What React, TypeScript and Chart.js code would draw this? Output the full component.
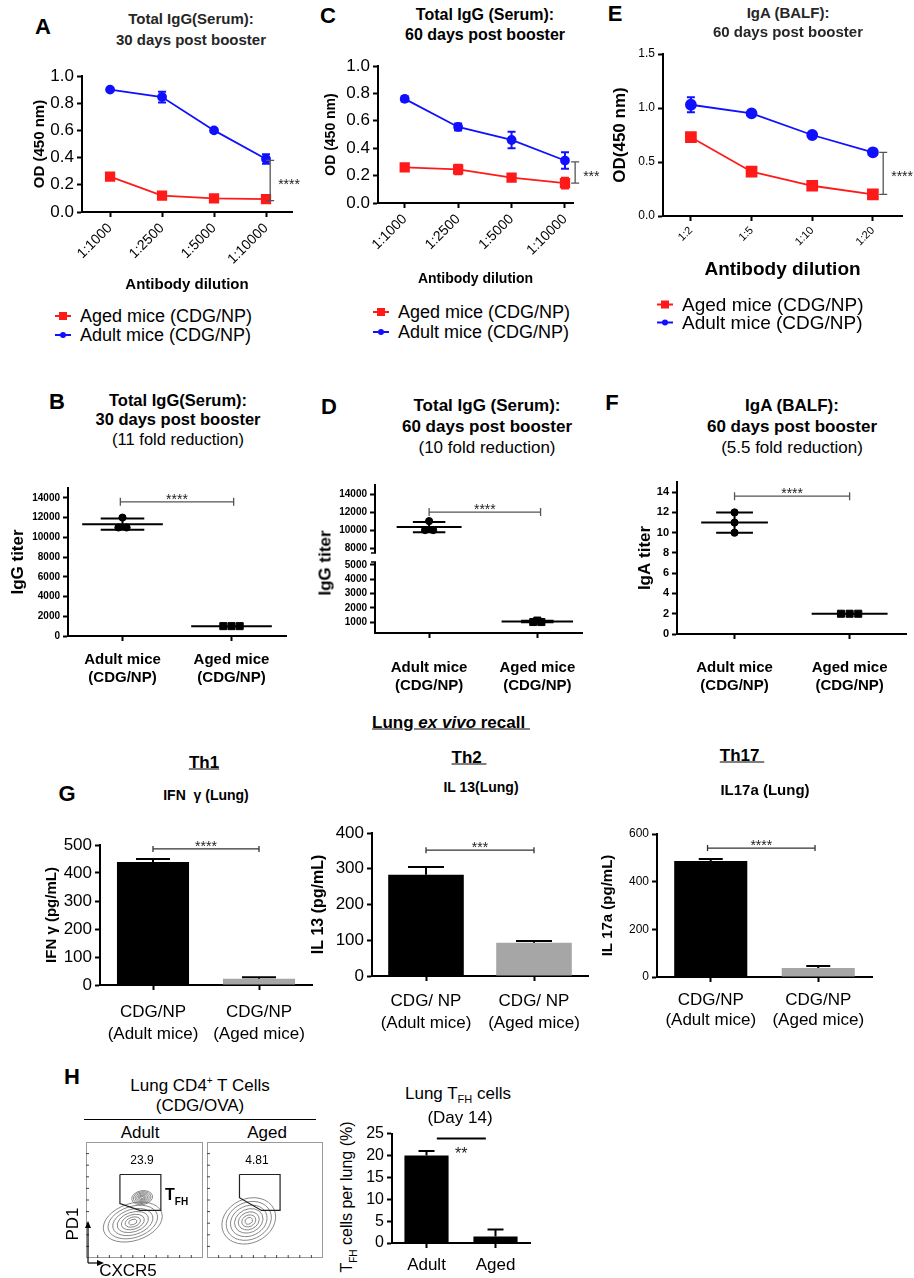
import React, { useEffect, useRef } from 'react';
import { Chart, registerables } from 'chart.js';

Chart.register(...registerables);

const FONT = "'Liberation Sans', Arial, Helvetica, sans-serif";
const RED = '#ff1a1a';
const BLUE = '#1010ff';
const GREY_BAR = '#a6a6a6';

// ---------- data ----------
const igGDilutions = ['1:1000', '1:2500', '1:5000', '1:10000'];
const igADilutions = ['1:2', '1:5', '1:10', '1:20'];
const odTicks = [0, 0.2, 0.4, 0.6, 0.8, 1.0];
const odIgATicks = [0, 0.5, 1.0, 1.5];

// A: total IgG, 30 days
const a30Adult = [0.9, 0.845, 0.6, 0.39];
const a30AdultErr = [0.01, 0.04, 0.012, 0.035];
const a30Aged = [0.26, 0.12, 0.1, 0.095];
const a30AgedErr = [0.015, 0.012, 0.008, 0.008];

// C: total IgG, 60 days
const c60Adult = [0.76, 0.555, 0.46, 0.31];
const c60AdultErr = [0.02, 0.025, 0.06, 0.06];
const c60Aged = [0.26, 0.245, 0.185, 0.145];
const c60AgedErr = [0.02, 0.035, 0.015, 0.04];

// E: IgA BALF, 60 days
const eIgAAdult = [1.03, 0.95, 0.75, 0.59];
const eIgAAdultErr = [0.07, 0.01, 0.01, 0.01];
const eIgAAged = [0.73, 0.41, 0.28, 0.2];
const eIgAAgedErr = [0.01, 0.01, 0.01, 0.01];

// B, D, F: titers per mouse
const titerGroups = [['Adult mice', '(CDG/NP)'], ['Aged mice', '(CDG/NP)']];
const bTicks = [0, 2000, 4000, 6000, 8000, 10000, 12000, 14000];
const bAdult = [12000, 11000, 11000];
const bAged = [1000, 1000, 1000];
const dTicksUpper = [8000, 10000, 12000, 14000];
const dTicksLower = [1000, 2000, 3000, 4000, 5000];
const dAdult = [11000, 10000, 10000];
const dAged = [1100, 1000, 1000];
const fTicks = [0, 2, 4, 6, 8, 10, 12, 14];
const fAdult = [12, 11, 10];
const fAged = [2, 2, 2];

// G: cytokines
const cytoCats = [['CDG/NP', '(Adult mice)'], ['CDG/NP', '(Aged mice)']];
const cytoCatsIl13 = [['CDG/ NP', '(Adult mice)'], ['CDG/ NP', '(Aged mice)']];
const ifnTicks = [0, 100, 200, 300, 400, 500];
const ifnG = [439, 22];
const ifnGErr = [11, 6];
const il13Ticks = [0, 100, 200, 300, 400];
const il13 = [283, 93];
const il13Err = [22, 5];
const il17Ticks = [0, 200, 400, 600];
const il17a = [487, 38];
const il17aErr = [8, 8];

// H: TFH
const tfhCats = ['Adult', 'Aged'];
const tfhTicks = [0, 5, 10, 15, 20, 25];
const tfhPct = [20, 1.5];
const tfhErr = [1, 1.6];
// flow gates (CXCR5, PD1 on a 0-100 display scale)
const adultGate = [[29, 72], [64, 72], [64, 41], [46, 41], [29, 47], [29, 72]];
const agedGate = [[28, 72], [63, 72], [63, 41], [47, 41], [28, 52], [28, 72]];
// populations: [cx, cy, rx, ry, tilt]
const adultPops = [[40, 31, 26, 16, 18], [48, 52, 9, 6, 10]];
const agedPops = [[36, 32, 24, 19, 25]];
const contourLevels = [1, 0.84, 0.68, 0.53, 0.39, 0.26, 0.14];
const flowTicks = [10, 20, 30, 40, 50, 60, 70, 80, 90];

// ---------- helpers ----------
type Area = { l: number; t: number; r: number; b: number };
type Bracket = {
  dir: 'v' | 'h'; at: number; from: number; to: number; label: string;
  yAxis?: string; color?: string; width?: number; ends?: number; size?: number; dx?: number; dy?: number;
};

const font = (size: number, bold = false, lineHeight = 1.2) =>
  ({ family: FONT, size, weight: bold ? 'bold' : 'normal', lineHeight } as any);

const baseOptions = (padT: number, padR: number) => ({
  responsive: true,
  maintainAspectRatio: false,
  animation: false,
  events: [],
  layout: { padding: { top: padT, right: padR, bottom: 0, left: 0 } },
  plugins: { legend: { display: false }, tooltip: { enabled: false }, title: { display: false } },
});

function yScale(o: {
  ticks: number[]; min: number; max: number; yw: number; size: number; bold?: boolean;
  fmt?: (v: number) => string; title?: string; titleSize?: number; titlePad?: number;
  stack?: string;
}) {
  const s: any = {
    type: 'linear', position: 'left', min: o.min, max: o.max,
    afterFit: (sc: any) => { sc.width = o.yw; },
    afterBuildTicks: (sc: any) => { sc.ticks = o.ticks.map((value) => ({ value })); },
    border: { display: true, color: '#000', width: 2 },
    grid: { display: true, drawOnChartArea: false, drawTicks: true, tickLength: 5, tickColor: '#000', tickWidth: 2 },
    ticks: {
      color: '#000', font: font(o.size, o.bold), padding: 3, autoSkip: false,
      callback: (v: number) => (o.fmt ? o.fmt(v) : String(v)),
    },
    title: {
      display: !!o.title, text: o.title || '', color: '#000', font: font(o.titleSize || 15, true),
      padding: { top: o.titlePad || 0, bottom: 0 },
    },
  };
  if (o.stack) { s.stack = o.stack; s.stackWeight = 1; }
  return s;
}

function xLinear(o: {
  labels: any[]; min: number; max: number; xh: number; size: number; bold?: boolean; rotate?: number;
  pad: number; title?: string; titleSize?: number;
}) {
  return {
    type: 'linear', position: 'bottom', min: o.min, max: o.max,
    afterFit: (sc: any) => { sc.height = o.xh; },
    afterBuildTicks: (sc: any) => { sc.ticks = o.labels.map((_, i) => ({ value: i })); },
    border: { display: true, color: '#000', width: 2 },
    grid: { display: true, drawOnChartArea: false, drawTicks: true, tickLength: 5, tickColor: '#000', tickWidth: 2 },
    ticks: {
      autoSkip: false, color: '#000', font: font(o.size, o.bold), padding: o.pad,
      minRotation: o.rotate || 0, maxRotation: o.rotate || 0,
      callback: (v: number) => o.labels[Math.round(v)],
    },
    title: {
      display: !!o.title, text: o.title || '', color: '#000', font: font(o.titleSize || 15, true),
      padding: { top: 0, bottom: 0 },
    },
  };
}

function xCategory(o: { xh: number; size: number; pad: number; lineHeight?: number }) {
  return {
    type: 'category', position: 'bottom', offset: true,
    afterFit: (sc: any) => { sc.height = o.xh; },
    border: { display: true, color: '#000', width: 2 },
    grid: { display: true, offset: false, drawOnChartArea: false, drawTicks: true, tickLength: 5, tickColor: '#000', tickWidth: 2 },
    ticks: { color: '#000', font: font(o.size, false, o.lineHeight || 1.2), padding: o.pad, autoSkip: false, maxRotation: 0 },
  };
}

const errorBars = {
  id: 'errorBars',
  afterDatasetsDraw(chart: any) {
    const { ctx } = chart;
    chart.data.datasets.forEach((ds: any, di: number) => {
      if (!ds.errors) return;
      const meta = chart.getDatasetMeta(di);
      const ys = chart.scales[meta.yAxisID];
      ctx.save();
      ctx.strokeStyle = ds.errorColor || ds.borderColor;
      ctx.lineWidth = ds.errorWidth || 2;
      meta.data.forEach((el: any, i: number) => {
        const raw = ds.data[i];
        const v = typeof raw === 'number' ? raw : raw.y;
        const e = ds.errors[i];
        if (!e) return;
        const x = el.x;
        const yTop = ys.getPixelForValue(v + e);
        const yBot = ys.getPixelForValue(ds.errorUpOnly ? v : v - e);
        const c = ds.capPx ?? 4;
        ctx.beginPath();
        ctx.moveTo(x, yTop); ctx.lineTo(x, yBot);
        ctx.moveTo(x - c, yTop); ctx.lineTo(x + c, yTop);
        if (!ds.errorUpOnly) { ctx.moveTo(x - c, yBot); ctx.lineTo(x + c, yBot); }
        ctx.stroke();
      });
      ctx.restore();
    });
  },
};

function bracketPlugin(list: Bracket[]) {
  return {
    id: 'brackets',
    afterDraw(chart: any) {
      const { ctx } = chart;
      const xs = chart.scales.x;
      list.forEach((b) => {
        const ys = chart.scales[b.yAxis || 'y'];
        const ends = b.ends ?? 4;
        ctx.save();
        ctx.strokeStyle = b.color || '#555';
        ctx.lineWidth = b.width || 1.3;
        ctx.fillStyle = '#222';
        ctx.font = `${b.size || 14}px ${FONT}`;
        ctx.textBaseline = 'alphabetic';
        ctx.beginPath();
        if (b.dir === 'v') {
          const x = xs.getPixelForValue(b.at);
          const y1 = ys.getPixelForValue(b.from);
          const y2 = ys.getPixelForValue(b.to);
          ctx.moveTo(x, y1); ctx.lineTo(x, y2);
          ctx.moveTo(x - ends, y1); ctx.lineTo(x + ends, y1);
          ctx.moveTo(x - ends, y2); ctx.lineTo(x + ends, y2);
          ctx.stroke();
          ctx.textAlign = 'left';
          ctx.fillText(b.label, x + (b.dx ?? 8), (y1 + y2) / 2 + (b.dy ?? 8));
        } else {
          const y = ys.getPixelForValue(b.at);
          const x1 = xs.getPixelForValue(b.from);
          const x2 = xs.getPixelForValue(b.to);
          ctx.moveTo(x1, y); ctx.lineTo(x2, y);
          if (ends) {
            ctx.moveTo(x1, y - ends); ctx.lineTo(x1, y + ends);
            ctx.moveTo(x2, y - ends); ctx.lineTo(x2, y + ends);
          }
          ctx.stroke();
          ctx.textAlign = 'center';
          ctx.fillText(b.label, (x1 + x2) / 2 + (b.dx ?? 0), y + (b.dy ?? 2));
        }
        ctx.restore();
      });
    },
  };
}

type MeanGroup = { x: number; values: number[]; yAxis: string; meanHalf: number; sdHalf: number };
function meanSdPlugin(groups: MeanGroup[]) {
  return {
    id: 'meanSd',
    afterDatasetsDraw(chart: any) {
      const { ctx } = chart;
      const xs = chart.scales.x;
      groups.forEach((g) => {
        const ys = chart.scales[g.yAxis];
        const n = g.values.length;
        const mean = g.values.reduce((s, v) => s + v, 0) / n;
        const sd = Math.sqrt(g.values.reduce((s, v) => s + (v - mean) ** 2, 0) / (n - 1));
        const ym = ys.getPixelForValue(mean);
        const yHi = ys.getPixelForValue(mean + sd);
        const yLo = ys.getPixelForValue(mean - sd);
        ctx.save();
        ctx.strokeStyle = '#000';
        ctx.lineWidth = 2;
        ctx.beginPath();
        ctx.moveTo(xs.getPixelForValue(g.x - g.meanHalf), ym);
        ctx.lineTo(xs.getPixelForValue(g.x + g.meanHalf), ym);
        const xc = xs.getPixelForValue(g.x);
        ctx.moveTo(xc, yHi); ctx.lineTo(xc, yLo);
        [yHi, yLo].forEach((yy) => {
          ctx.moveTo(xs.getPixelForValue(g.x - g.sdHalf), yy);
          ctx.lineTo(xs.getPixelForValue(g.x + g.sdHalf), yy);
        });
        ctx.stroke();
        ctx.restore();
      });
    },
  };
}

const axisBreak = {
  id: 'axisBreak',
  afterDraw(chart: any) {
    const { ctx } = chart;
    const top = chart.scales.yT;
    const bot = chart.scales.yB;
    const boundary = top.top < bot.top ? top.bottom : bot.bottom;
    const x = chart.chartArea.left;
    ctx.save();
    ctx.clearRect(x - 5, boundary - 6, 10, 9);
    ctx.strokeStyle = '#000';
    ctx.lineWidth = 1.5;
    ctx.beginPath();
    ctx.moveTo(x - 4, boundary - 6); ctx.lineTo(x + 1, boundary - 6);
    ctx.moveTo(x - 4, boundary + 3); ctx.lineTo(x + 1, boundary + 3);
    ctx.stroke();
    ctx.restore();
  },
};

function contourPlugin(pops: number[][]) {
  return {
    id: 'contours',
    beforeDatasetsDraw(chart: any) {
      const { ctx, chartArea: a } = chart;
      const { x, y } = chart.scales;
      ctx.save();
      ctx.beginPath();
      ctx.rect(a.left, a.top, a.right - a.left, a.bottom - a.top);
      ctx.clip();
      ctx.strokeStyle = '#7a7a7a';
      ctx.lineWidth = 0.9;
      pops.forEach(([cx, cy, rx, ry, tilt]) => {
        contourLevels.forEach((k) => {
          const px = x.getPixelForValue(cx);
          const py = y.getPixelForValue(cy);
          const prx = Math.abs(x.getPixelForValue(cx + rx * k) - px);
          const pry = Math.abs(y.getPixelForValue(cy + ry * k) - py);
          ctx.beginPath();
          ctx.ellipse(px, py, prx, pry, (-tilt * Math.PI) / 180, 0, Math.PI * 2);
          ctx.stroke();
        });
      });
      ctx.restore();
    },
  };
}

const framePlugin = {
  id: 'frame',
  afterDraw(chart: any) {
    const { ctx, chartArea: a } = chart;
    const { x, y } = chart.scales;
    ctx.save();
    ctx.strokeStyle = '#9a9a9a';
    ctx.lineWidth = 1;
    ctx.strokeRect(a.left + 0.5, a.top + 0.5, a.right - a.left - 1, a.bottom - a.top - 1);
    ctx.strokeStyle = '#444';
    ctx.beginPath();
    flowTicks.forEach((t) => {
      const px = x.getPixelForValue(t);
      const py = y.getPixelForValue(t);
      ctx.moveTo(px, a.bottom); ctx.lineTo(px, a.bottom - 3);
      ctx.moveTo(a.left, py); ctx.lineTo(a.left + 3, py);
    });
    ctx.stroke();
    ctx.restore();
  },
};

function spread(values: number[], center: number, gap: number) {
  const counts: Record<string, number> = {};
  values.forEach((v) => { counts[v] = (counts[v] || 0) + 1; });
  const seen: Record<string, number> = {};
  return values.map((v) => {
    seen[v] = (seen[v] ?? -1) + 1;
    return { x: center + (seen[v] - (counts[v] - 1) / 2) * gap, y: v };
  });
}

function ChartPanel({ area, yw, xh, padT, padR, build }: {
  area: Area; yw: number; xh: number; padT: number; padR: number; build: () => any;
}) {
  const ref = useRef<HTMLCanvasElement>(null);
  const left = area.l - yw;
  const top = area.t - padT;
  const width = area.r + padR - left;
  const height = area.b + xh - top;
  useEffect(() => {
    if (!ref.current) return;
    const chart = new Chart(ref.current, build());
    return () => chart.destroy();
  }, []);
  return (
    <div style={{ position: 'absolute', left, top, width, height }}>
      <canvas ref={ref} />
    </div>
  );
}

// ---------- chart builders ----------
function lineChart(p: {
  labels: string[]; adult: number[]; adultErr: number[]; aged: number[]; agedErr: number[];
  yTicks: number[]; yMax: number; yw: number; ySize: number; yTitle: string; yTitleSize: number; yTitlePad: number;
  xMin: number; xMax: number; xh: number; xSize: number; xTitleSize: number; padT: number; padR: number;
  circleR: number; rectR: number; bracket: Bracket;
}) {
  return {
    type: 'line',
    data: {
      datasets: [
        {
          data: p.aged.map((y, i) => ({ x: i, y })), borderColor: RED, backgroundColor: RED, borderWidth: 1.8,
          pointStyle: 'rect', pointRadius: p.rectR, errors: p.agedErr, capPx: 4,
        },
        {
          data: p.adult.map((y, i) => ({ x: i, y })), borderColor: BLUE, backgroundColor: BLUE, borderWidth: 1.8,
          pointStyle: 'circle', pointRadius: p.circleR, errors: p.adultErr, capPx: 4,
        },
      ],
    },
    options: {
      ...baseOptions(p.padT, p.padR),
      scales: {
        x: xLinear({ labels: p.labels, min: p.xMin, max: p.xMax, xh: p.xh, size: p.xSize, rotate: 45, pad: 3, title: 'Antibody dilution', titleSize: p.xTitleSize }),
        y: yScale({ ticks: p.yTicks, min: 0, max: p.yMax, yw: p.yw, size: p.ySize, fmt: (v) => v.toFixed(1), title: p.yTitle, titleSize: p.yTitleSize, titlePad: p.yTitlePad }),
      },
    },
    plugins: [errorBars, bracketPlugin([p.bracket])],
  };
}

function dotDatasets(adult: number[], aged: number[], yA: string, yB: string) {
  return [
    { data: spread(adult, 0, 0.075), yAxisID: yA, backgroundColor: '#000', borderColor: '#000', pointStyle: 'circle', pointRadius: 3.6 },
    { data: spread(aged, 1, 0.075), yAxisID: yB, backgroundColor: '#000', borderColor: '#000', pointStyle: 'rect', pointRadius: 5 },
  ];
}

function barChart(p: {
  labels: any[]; values: number[]; errors: number[]; colors: string[]; yTicks: number[]; yMax: number;
  yw: number; ySize: number; yTitle?: string; yTitleSize?: number; yTitlePad?: number;
  xh: number; xSize: number; xPad: number; xLineHeight?: number; barPct: number; cap: number;
  brackets: Bracket[]; padT: number; padR: number;
}) {
  return {
    type: 'bar',
    data: {
      labels: p.labels,
      datasets: [{
        data: p.values, backgroundColor: p.colors, borderWidth: 0, barPercentage: p.barPct, categoryPercentage: 1,
        errors: p.errors, errorUpOnly: true, errorColor: '#000', capPx: p.cap,
      }],
    },
    options: {
      ...baseOptions(p.padT, p.padR),
      scales: {
        x: xCategory({ xh: p.xh, size: p.xSize, pad: p.xPad, lineHeight: p.xLineHeight }),
        y: yScale({ ticks: p.yTicks, min: 0, max: p.yMax, yw: p.yw, size: p.ySize, title: p.yTitle, titleSize: p.yTitleSize, titlePad: p.yTitlePad }),
      },
    },
    plugins: [errorBars, bracketPlugin(p.brackets)],
  };
}

function flowChart(gate: number[][], pops: number[][]) {
  return {
    type: 'scatter',
    data: {
      datasets: [{
        data: gate.map(([x, y]) => ({ x, y })), showLine: true, borderColor: '#222', borderWidth: 1.2,
        pointRadius: 0, fill: false,
      }],
    },
    options: {
      ...baseOptions(0, 0),
      scales: { x: { display: false, min: 0, max: 100 }, y: { display: false, min: 0, max: 100 } },
    },
    plugins: [contourPlugin(pops), framePlugin],
  };
}

// ---------- text helpers ----------
function Txt({ x, y, size = 16, bold = false, align = 'center', color = '#000', rotate = 0, style, children }: any) {
  const tx = align === 'center' ? '-50%' : align === 'right' ? '-100%' : '0';
  return (
    <div style={{
      position: 'absolute', left: x, top: y, transform: `translate(${tx}, -50%) rotate(${rotate}deg)`,
      fontFamily: FONT, fontSize: size, fontWeight: bold ? 700 : 400, color, whiteSpace: 'nowrap', lineHeight: 1,
      ...style,
    }}>{children}</div>
  );
}

function LegendRow({ x, y, color, shape, text, size }: any) {
  const sq = shape === 'rect';
  return (
    <div style={{
      position: 'absolute', left: x, top: y, transform: 'translateY(-50%)', display: 'flex', alignItems: 'center',
      fontFamily: FONT, fontSize: size, whiteSpace: 'nowrap', lineHeight: 1, color: '#000',
    }}>
      <span style={{ position: 'relative', width: 16, height: 10, marginRight: 9, display: 'inline-block' }}>
        <span style={{ position: 'absolute', left: 0, top: 4, width: 16, height: 2, background: color }} />
        <span style={{
          position: 'absolute', left: sq ? 4 : 5, top: sq ? 1 : 2, width: sq ? 8 : 6, height: sq ? 8 : 6,
          borderRadius: sq ? 0 : '50%', background: color,
        }} />
      </span>
      {text}
    </div>
  );
}

export default function App() {
  return (
    <div style={{ position: 'absolute', left: 0, top: 0, width: 914, height: 1278, background: '#fff', overflow: 'hidden' }}>
      {/* A */}
      <ChartPanel area={{ l: 82, t: 76, r: 292, b: 212 }} yw={62} xh={82} padT={14} padR={22} build={() => lineChart({
        labels: igGDilutions, adult: a30Adult, adultErr: a30AdultErr, aged: a30Aged, agedErr: a30AgedErr,
        yTicks: odTicks, yMax: 1, yw: 62, ySize: 17, yTitle: 'OD (450 nm)', yTitleSize: 15, yTitlePad: 11,
        xMin: -0.54, xMax: 3.5, xh: 82, xSize: 14, xTitleSize: 15, padT: 14, padR: 22, circleR: 4, rectR: 6,
        bracket: { dir: 'v', at: 3.08, from: 0.38, to: 0.083, label: '****' },
      })} />
      {/* C */}
      <ChartPanel area={{ l: 378, t: 66, r: 573, b: 203 }} yw={63} xh={85} padT={14} padR={35} build={() => lineChart({
        labels: igGDilutions, adult: c60Adult, adultErr: c60AdultErr, aged: c60Aged, agedErr: c60AgedErr,
        yTicks: odTicks, yMax: 1, yw: 63, ySize: 17, yTitle: 'OD (450 nm)', yTitleSize: 14, yTitlePad: 8,
        xMin: -0.5, xMax: 3.15, xh: 85, xSize: 14, xTitleSize: 14, padT: 14, padR: 35, circleR: 4, rectR: 6,
        bracket: { dir: 'v', at: 3.19, from: 0.3, to: 0.145, label: '***' },
      })} />
      {/* E */}
      <ChartPanel area={{ l: 663, t: 54, r: 902, b: 216 }} yw={58} xh={65} padT={12} padR={12} build={() => lineChart({
        labels: igADilutions, adult: eIgAAdult, adultErr: eIgAAdultErr, aged: eIgAAged, agedErr: eIgAAgedErr,
        yTicks: odIgATicks, yMax: 1.5, yw: 58, ySize: 12, yTitle: 'OD(450 nm)', yTitleSize: 17, yTitlePad: 5,
        xMin: -0.46, xMax: 3.48, xh: 65, xSize: 11, xTitleSize: 19, padT: 12, padR: 12, circleR: 5, rectR: 7,
        bracket: { dir: 'v', at: 3.17, from: 0.59, to: 0.2, label: '****' },
      })} />

      {/* B */}
      <ChartPanel area={{ l: 68, t: 488, r: 286, b: 636 }} yw={66} xh={60} padT={14} padR={8} build={() => ({
        type: 'scatter',
        data: { datasets: dotDatasets(bAdult, bAged, 'y', 'y') },
        options: {
          ...baseOptions(14, 8),
          scales: {
            x: xLinear({ labels: titerGroups, min: -0.5, max: 1.5, xh: 60, size: 15, bold: true, pad: 10 }),
            y: yScale({ ticks: bTicks, min: 0, max: 15000, yw: 66, size: 10, bold: true, title: 'IgG titer', titleSize: 17, titlePad: 6 }),
          },
        },
        plugins: [
          meanSdPlugin([
            { x: 0, values: bAdult, yAxis: 'y', meanHalf: 0.37, sdHalf: 0.2 },
            { x: 1, values: bAged, yAxis: 'y', meanHalf: 0.37, sdHalf: 0.2 },
          ]),
          bracketPlugin([{ dir: 'h', at: 13600, from: -0.02, to: 1.02, label: '****', ends: 4 }]),
        ],
      })} />
      {/* D (broken axis: lower scale listed first so the upper one stacks on top) */}
      <ChartPanel area={{ l: 375, t: 485, r: 590, b: 633 }} yw={65} xh={67} padT={14} padR={8} build={() => ({
        type: 'scatter',
        data: { datasets: dotDatasets(dAdult, dAged, 'yT', 'yB') },
        options: {
          ...baseOptions(14, 8),
          scales: {
            x: xLinear({ labels: titerGroups, min: -0.5, max: 1.42, xh: 67, size: 15, bold: true, pad: 21 }),
            yB: yScale({ ticks: dTicksLower, min: 230, max: 5420, yw: 65, size: 10, bold: true, stack: 'igg' }),
            yT: yScale({ ticks: dTicksUpper, min: 6800, max: 15000, yw: 65, size: 10, bold: true, stack: 'igg' }),
          },
        },
        plugins: [
          meanSdPlugin([
            { x: 0, values: dAdult, yAxis: 'yT', meanHalf: 0.3, sdHalf: 0.15 },
            { x: 1, values: dAged, yAxis: 'yB', meanHalf: 0.33, sdHalf: 0.15 },
          ]),
          bracketPlugin([{ dir: 'h', at: 12000, from: 0, to: 1.03, label: '****', yAxis: 'yT', ends: 4 }]),
          axisBreak,
        ],
      })} />
      {/* F */}
      <ChartPanel area={{ l: 677, t: 482, r: 906, b: 634 }} yw={49} xh={66} padT={14} padR={8} build={() => ({
        type: 'scatter',
        data: { datasets: dotDatasets(fAdult, fAged, 'y', 'y') },
        options: {
          ...baseOptions(14, 8),
          scales: {
            x: xLinear({ labels: titerGroups, min: -0.5, max: 1.49, xh: 66, size: 15, bold: true, pad: 20 }),
            y: yScale({ ticks: fTicks, min: 0, max: 15, yw: 49, size: 11, bold: true, title: 'IgA titer', titleSize: 17, titlePad: 7 }),
          },
        },
        plugins: [
          meanSdPlugin([
            { x: 0, values: fAdult, yAxis: 'y', meanHalf: 0.29, sdHalf: 0.16 },
            { x: 1, values: fAged, yAxis: 'y', meanHalf: 0.33, sdHalf: 0.16 },
          ]),
          bracketPlugin([{ dir: 'h', at: 13.6, from: 0, to: 1, label: '****', ends: 4 }]),
        ],
      })} />

      {/* G */}
      <ChartPanel area={{ l: 100, t: 845, r: 312, b: 985 }} yw={65} xh={65} padT={14} padR={8} build={() => barChart({
        labels: cytoCats, values: ifnG, errors: ifnGErr, colors: ['#000', GREY_BAR], yTicks: ifnTicks, yMax: 500,
        yw: 65, ySize: 17, yTitle: 'IFN γ (pg/mL)', yTitleSize: 15, yTitlePad: 8, xh: 65, xSize: 17, xPad: 11,
        xLineHeight: 1.3, barPct: 0.68, cap: 17, padT: 14, padR: 8,
        brackets: [{ dir: 'h', at: 486, from: 0, to: 1, label: '****', ends: 3, color: '#333' }],
      })} />
      <ChartPanel area={{ l: 372, t: 833, r: 588, b: 976 }} yw={72} xh={70} padT={14} padR={8} build={() => barChart({
        labels: cytoCatsIl13, values: il13, errors: il13Err, colors: ['#000', GREY_BAR], yTicks: il13Ticks, yMax: 400,
        yw: 72, ySize: 17, yTitle: 'IL 13 (pg/mL)', yTitleSize: 16, yTitlePad: 9, xh: 70, xSize: 17, xPad: 10,
        xLineHeight: 1.25, barPct: 0.7, cap: 18, padT: 14, padR: 8,
        brackets: [{ dir: 'h', at: 352, from: 0, to: 1, label: '***', ends: 3, color: '#333' }],
      })} />
      <ChartPanel area={{ l: 657, t: 834, r: 872, b: 977 }} yw={65} xh={70} padT={14} padR={8} build={() => barChart({
        labels: cytoCats, values: il17a, errors: il17aErr, colors: ['#000', GREY_BAR], yTicks: il17Ticks, yMax: 600,
        yw: 65, ySize: 12, yTitle: 'IL 17a (pg/mL)', yTitleSize: 15, yTitlePad: 7, xh: 70, xSize: 17, xPad: 8,
        xLineHeight: 1.2, barPct: 0.68, cap: 12, padT: 14, padR: 8,
        brackets: [{ dir: 'h', at: 541, from: -0.03, to: 0.97, label: '****', ends: 3, color: '#333' }],
      })} />

      {/* H */}
      <ChartPanel area={{ l: 86, t: 1142, r: 203, b: 1258 }} yw={0} xh={0} padT={0} padR={0} build={() => flowChart(adultGate, adultPops)} />
      <ChartPanel area={{ l: 207, t: 1142, r: 323, b: 1258 }} yw={0} xh={0} padT={0} padR={0} build={() => flowChart(agedGate, agedPops)} />
      <ChartPanel area={{ l: 392, t: 1131, r: 530, b: 1243 }} yw={32} xh={35} padT={10} padR={8} build={() => barChart({
        labels: tfhCats, values: tfhPct, errors: tfhErr, colors: ['#000', '#000'], yTicks: tfhTicks, yMax: 25,
        yw: 32, ySize: 16, xh: 35, xSize: 17, xPad: 7, barPct: 0.64, cap: 8, padT: 10, padR: 8,
        brackets: [{ dir: 'h', at: 23.9, from: 0.15, to: 0.86, label: '**', ends: 0, color: '#000', width: 2, size: 16, dy: 21 }],
      })} />

      {/* ---------- text ---------- */}
      <Txt x={43} y={27} size={22} bold>A</Txt>
      <Txt x={191} y={18} size={15} bold color="#262626">Total IgG(Serum):</Txt>
      <Txt x={191} y={39} size={15} bold color="#262626">30 days post booster</Txt>
      <LegendRow x={55} y={316} color={RED} shape="rect" text="Aged mice (CDG/NP)" size={18} />
      <LegendRow x={55} y={335} color={BLUE} shape="circle" text="Adult mice (CDG/NP)" size={18} />

      <Txt x={328} y={16} size={22} bold>C</Txt>
      <Txt x={485} y={15} size={16} bold>Total IgG (Serum):</Txt>
      <Txt x={485} y={35} size={16} bold>60 days post booster</Txt>
      <LegendRow x={373} y={312} color={RED} shape="rect" text="Aged mice (CDG/NP)" size={18} />
      <LegendRow x={373} y={332} color={BLUE} shape="circle" text="Adult mice (CDG/NP)" size={18} />

      <Txt x={615} y={14} size={22} bold>E</Txt>
      <Txt x={788} y={12} size={15} bold color="#262626">IgA (BALF):</Txt>
      <Txt x={788} y={31} size={15} bold color="#262626">60 days post booster</Txt>
      <LegendRow x={657} y={304} color={RED} shape="rect" text="Aged mice (CDG/NP)" size={19} />
      <LegendRow x={657} y={322} color={BLUE} shape="circle" text="Adult mice (CDG/NP)" size={19} />

      <Txt x={57} y={402} size={22} bold>B</Txt>
      <Txt x={178} y={400} size={16.5} bold>Total IgG(Serum):</Txt>
      <Txt x={178} y={419} size={16.5} bold>30 days post booster</Txt>
      <Txt x={178} y={439} size={16.5}>(11 fold reduction)</Txt>

      <Txt x={329} y={407} size={22} bold>D</Txt>
      <Txt x={487} y={405} size={17} bold>Total IgG (Serum):</Txt>
      <Txt x={487} y={426} size={17} bold>60 days post booster</Txt>
      <Txt x={487} y={447} size={17}>(10 fold reduction)</Txt>
      <Txt x={325} y={563} size={17} bold rotate={-90}>IgG titer</Txt>

      <Txt x={612} y={403} size={22} bold>F</Txt>
      <Txt x={792} y={405} size={17} bold>IgA (BALF):</Txt>
      <Txt x={792} y={426} size={17} bold>60 days post booster</Txt>
      <Txt x={792} y={447} size={17}>(5.5 fold reduction)</Txt>

      <Txt x={451} y={722} size={17} bold style={{ textDecoration: 'underline' }}>
        Lung <i>ex vivo</i> recall&nbsp;
      </Txt>
      <Txt x={204} y={762} size={17} bold style={{ textDecoration: 'underline' }}>Th1</Txt>
      <Txt x={469} y={757} size={17} bold style={{ textDecoration: 'underline' }}>Th2&nbsp;</Txt>
      <Txt x={742} y={755} size={17} bold style={{ textDecoration: 'underline' }}>Th17&nbsp;</Txt>
      <Txt x={67} y={794} size={22} bold>G</Txt>
      <Txt x={206} y={795} size={14} bold>IFN&nbsp;&nbsp;γ (Lung)</Txt>
      <Txt x={481} y={787} size={14} bold>IL 13(Lung)</Txt>
      <Txt x={765} y={789} size={15} bold>IL17a (Lung)</Txt>

      <Txt x={72} y={1077} size={22} bold>H</Txt>
      <Txt x={200} y={1085} size={17}>Lung CD4<sup style={{ fontSize: 10 }}>+</sup> T Cells</Txt>
      <Txt x={200} y={1105} size={17}>(CDG/OVA)</Txt>
      <div style={{ position: 'absolute', left: 84, top: 1119, width: 232, height: 1, background: '#000' }} />
      <Txt x={140} y={1132} size={17}>Adult</Txt>
      <Txt x={267} y={1132} size={17}>Aged</Txt>
      <Txt x={142} y={1160} size={12}>23.9</Txt>
      <Txt x={257} y={1160} size={12}>4.81</Txt>
      <Txt x={165} y={1197} size={16} bold align="left">T<sub style={{ fontSize: 10 }}>FH</sub></Txt>
      <Txt x={72} y={1224} size={17} rotate={-90}>PD1</Txt>
      <Txt x={128} y={1270} size={17}>CXCR5</Txt>
      <svg style={{ position: 'absolute', left: 80, top: 1220 }} width={30} height={50}>
        <line x1={8} y1={43} x2={8} y2={7} stroke="#000" strokeWidth={1.2} />
        <polygon points="8,1 5,8 11,8" fill="#000" />
        <line x1={8} y1={43} x2={18} y2={43} stroke="#000" strokeWidth={1.2} />
        <polygon points="24,43 17,40 17,46" fill="#000" />
      </svg>
      <Txt x={458} y={1095} size={17}>Lung T<sub style={{ fontSize: 11 }}>FH</sub> cells</Txt>
      <Txt x={460} y={1117} size={17}>(Day 14)</Txt>
      <Txt x={349} y={1197} size={16} rotate={-90}>T<sub style={{ fontSize: 10 }}>FH</sub> cells per lung (%)</Txt>
    </div>
  );
}
